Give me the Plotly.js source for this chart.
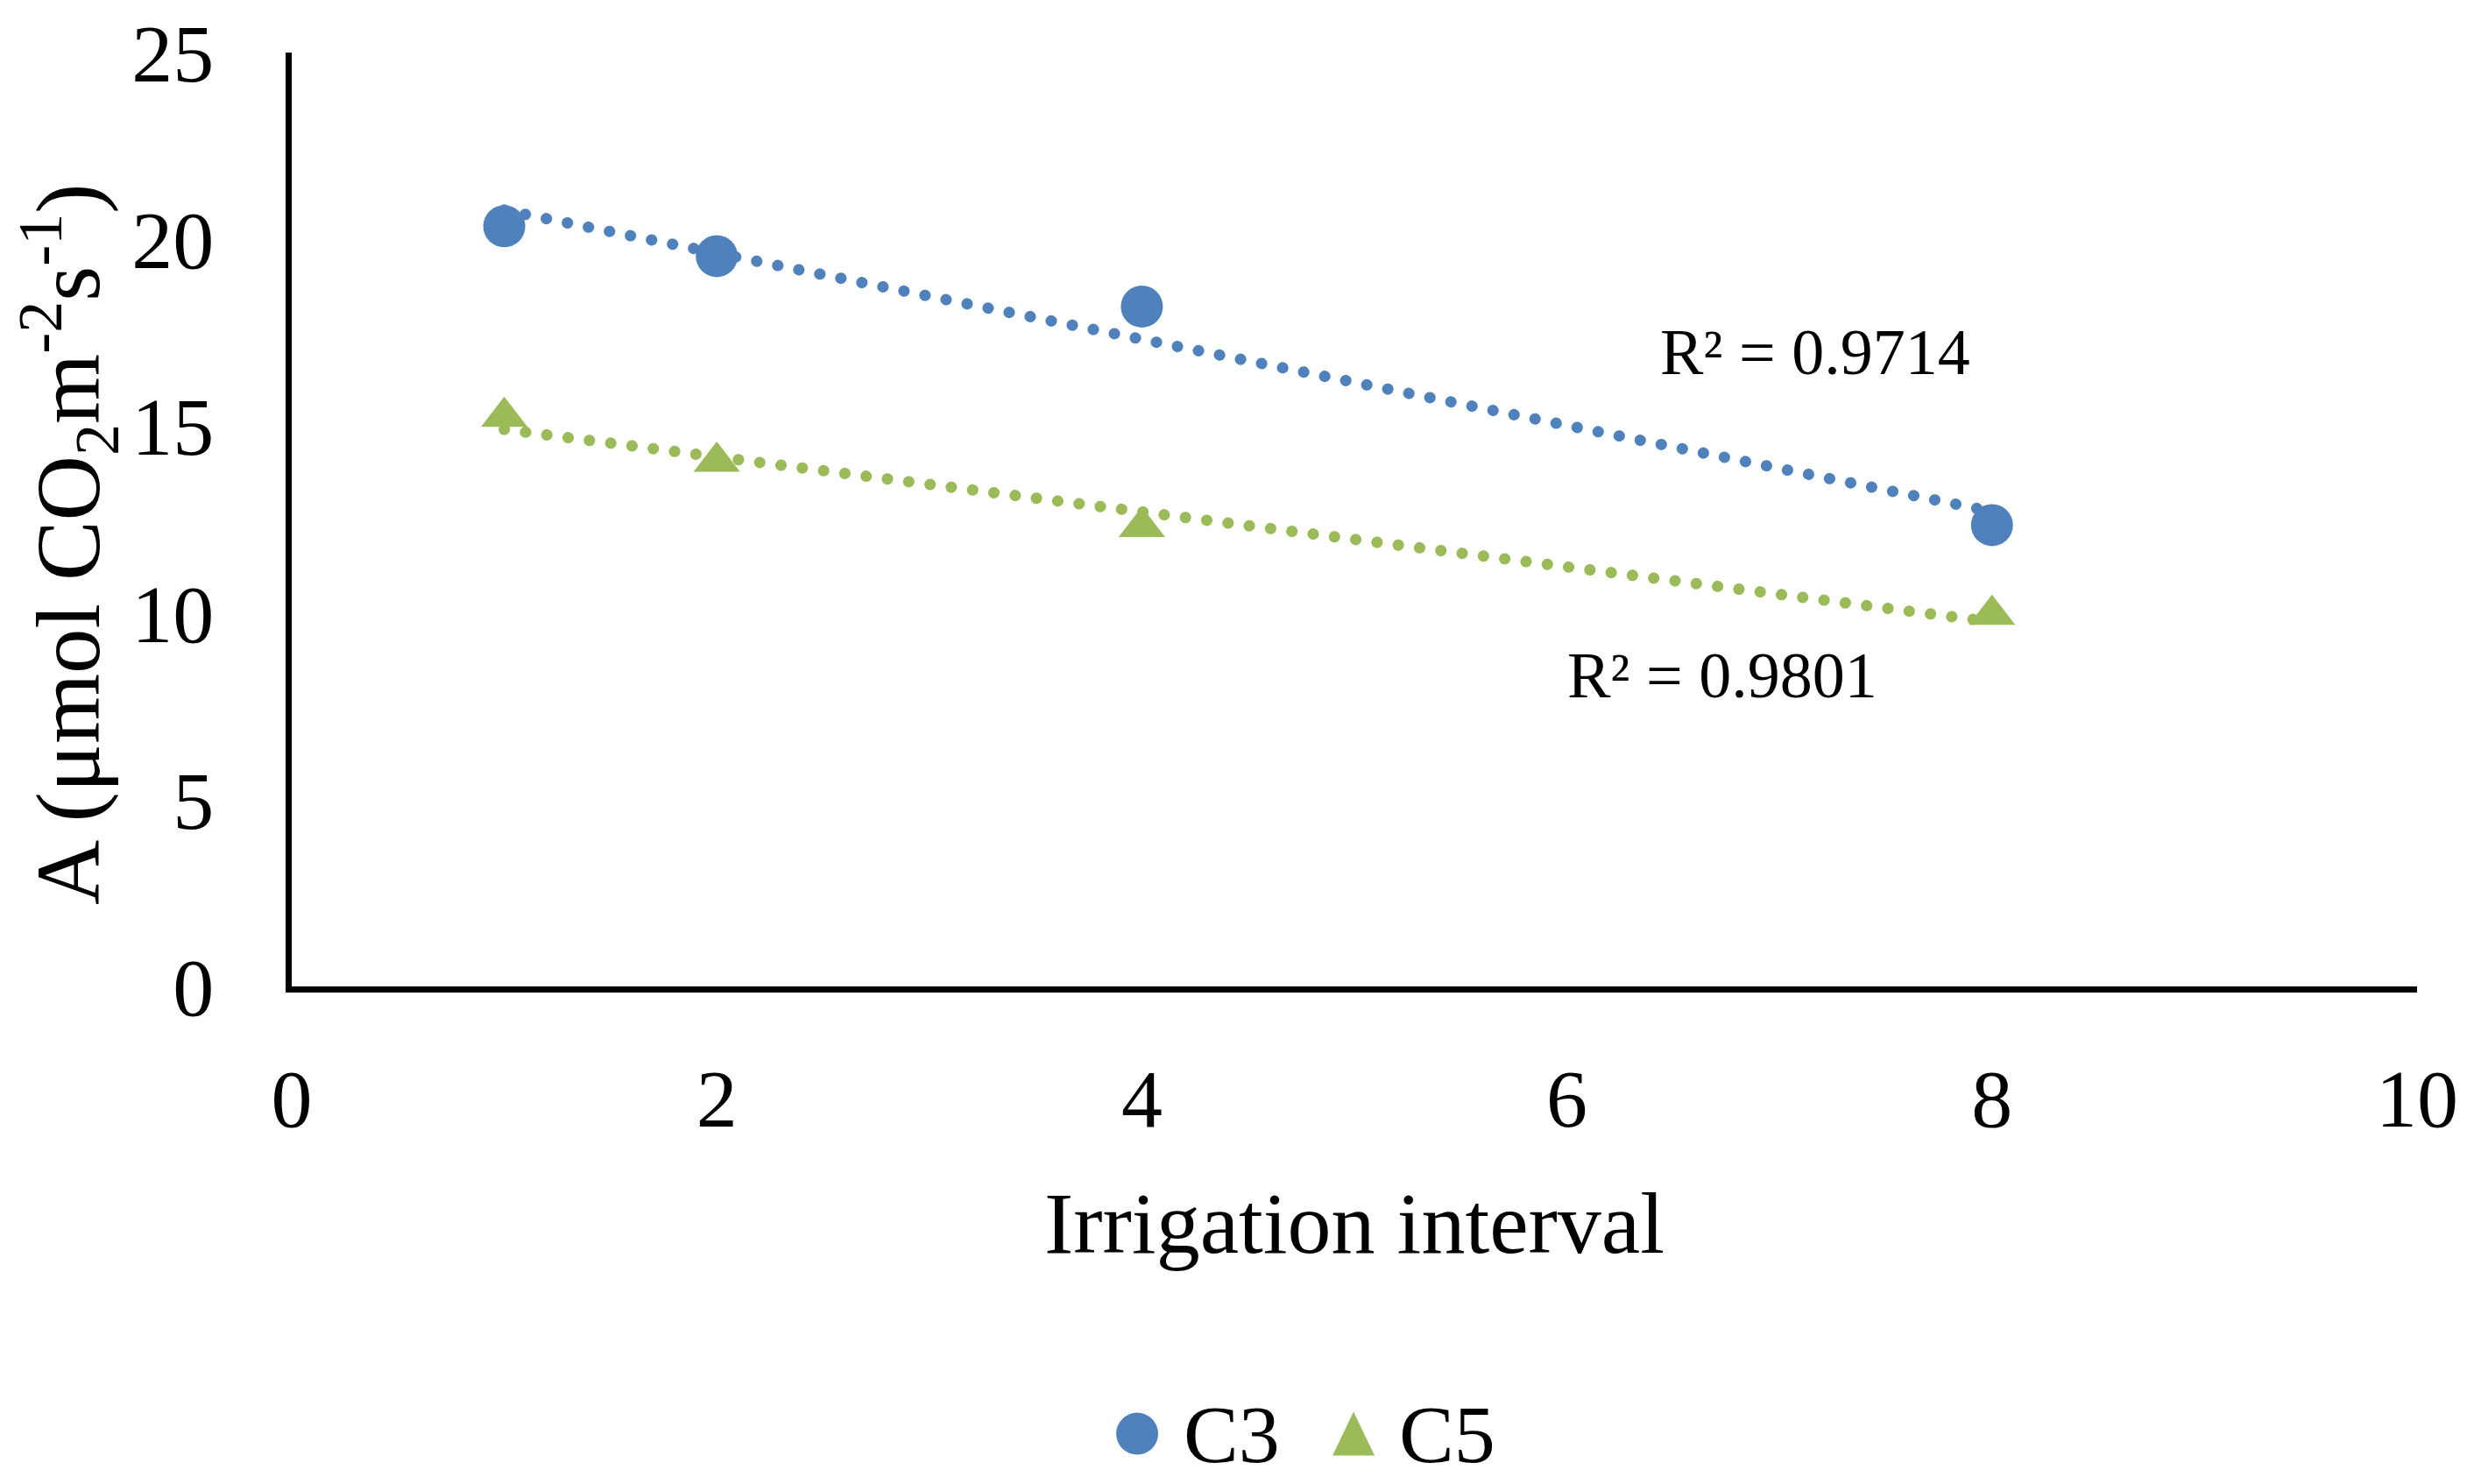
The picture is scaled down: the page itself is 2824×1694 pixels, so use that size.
<!DOCTYPE html>
<html>
<head>
<meta charset="utf-8">
<script src="https://cdn.plot.ly/plotly-3.0.1.min.js"></script>
<style>
  html, body { margin: 0; padding: 0; background: #fff; }
  #chart { width: 2824px; height: 1694px; }
  /* round dots on the trendlines, as in Excel */
  #chart .scatterlayer .js-line { stroke-linecap: round !important; }
</style>
</head>
<body>
<div id="chart"></div>
<script>
  // values
  const intervals = [1, 2, 4, 8];
  const c3Values = [20.35, 19.55, 18.2, 12.35];
  const c5Values = [15.25, 14.05, 12.3, 9.95];
  const seriesNames = ['C3', 'C5'];
  const r2Labels = ['R² = 0.9714', 'R² = 0.9801'];

  const blue = '#4F81BD';
  const green = '#9BBB59';
  const serif = 'Liberation Serif, Times New Roman, serif';

  // least squares line, drawn over the span of the data like Excel's trendline
  function trend(xs, ys) {
    let n = xs.length;
    let mx = xs.reduce((a, b) => a + b, 0) / n;
    let my = ys.reduce((a, b) => a + b, 0) / n;
    let sxy = 0, sxx = 0;
    for (let i = 0; i < n; i++) {
      sxy += (xs[i] - mx) * (ys[i] - my);
      sxx += (xs[i] - mx) ** 2;
    }
    let slope = sxy / sxx;
    let icpt = my - slope * mx;
    let ends = [xs[0], xs[n - 1]];
    return { x: ends, y: ends.map(v => icpt + slope * v) };
  }

  let t3 = trend(intervals, c3Values);
  let t5 = trend(intervals, c5Values);

  var trendC3 = {
    x: t3.x, y: t3.y,
    mode: 'lines',
    showlegend: false,
    hoverinfo: 'skip',
    line: { color: blue, width: 13, dash: '0.1px,24.4px' }
  };

  var trendC5 = {
    x: t5.x, y: t5.y,
    mode: 'lines',
    showlegend: false,
    hoverinfo: 'skip',
    line: { color: green, width: 13, dash: '0.1px,24.4px' }
  };

  var pointsC3 = {
    x: intervals, y: c3Values,
    mode: 'markers',
    name: seriesNames[0],
    showlegend: false,
    marker: { symbol: 'circle', size: 48, color: blue }
  };

  var pointsC5 = {
    x: intervals, y: c5Values,
    mode: 'markers',
    name: seriesNames[1],
    showlegend: false,
    marker: { symbol: 'triangle-up', size: 46, color: green }
  };

  // legend built by hand so the symbols can be as big as in the original
  let legY = -0.479;
  let legendShapes = [
    { type: 'circle', xref: 'paper', yref: 'paper',
      xsizemode: 'pixel', ysizemode: 'pixel',
      xanchor: 0.3978, yanchor: legY,
      x0: -24, x1: 24, y0: -24, y1: 24,
      fillcolor: blue, line: { width: 0 } },
    { type: 'path', xref: 'paper', yref: 'paper',
      xsizemode: 'pixel', ysizemode: 'pixel',
      xanchor: 0.4996, yanchor: legY,
      path: 'M-24,-25 L24,-25 L0,25 Z',
      fillcolor: green, line: { width: 0 } }
  ];

  var layout = {
    width: 2824,
    height: 1694,
    paper_bgcolor: '#fff',
    plot_bgcolor: '#fff',
    margin: { l: 333, r: 65, t: 60, b: 568 },
    font: { family: serif, color: '#000' },
    showlegend: false,
    xaxis: {
      range: [0, 10],
      dtick: 2,
      showgrid: false,
      zeroline: false,
      showline: true,
      linecolor: '#000',
      linewidth: 7,
      ticks: '',
      ticklabelstandoff: 40,
      tickfont: { family: serif, size: 94, color: '#000' },
      title: { text: 'Irrigation interval', standoff: 58, font: { family: serif, size: 100, color: '#000' } }
    },
    yaxis: {
      range: [0, 25],
      dtick: 5,
      showgrid: false,
      zeroline: false,
      showline: true,
      linecolor: '#000',
      linewidth: 7,
      ticks: '',
      ticklabelstandoff: 63,
      tickfont: { family: serif, size: 94, color: '#000' }
    },
    shapes: legendShapes,
    annotations: [
      { x: -0.1051, y: 0.4737, xref: 'paper', yref: 'paper', textangle: -90,
        xanchor: 'center', yanchor: 'middle', showarrow: false,
        text: 'A (μmol CO<sub>2</sub>m<sup>-2</sup>s<sup>-1</sup>)',
        font: { family: serif, size: 103, color: '#000' } },
      { x: 7.17, y: 16.98, xref: 'x', yref: 'y', text: r2Labels[0], showarrow: false,
        font: { family: serif, size: 74, color: '#000' } },
      { x: 6.73, y: 8.32, xref: 'x', yref: 'y', text: r2Labels[1], showarrow: false,
        font: { family: serif, size: 74, color: '#000' } },
      { x: 0.4188, y: legY, xref: 'paper', yref: 'paper', xanchor: 'left', yanchor: 'middle',
        showarrow: false, text: seriesNames[0], font: { family: serif, size: 94, color: '#000' } },
      { x: 0.5202, y: legY, xref: 'paper', yref: 'paper', xanchor: 'left', yanchor: 'middle',
        showarrow: false, text: seriesNames[1], font: { family: serif, size: 94, color: '#000' } }
    ]
  };

  Plotly.newPlot('chart', [trendC3, trendC5, pointsC3, pointsC5], layout, { displayModeBar: false, staticPlot: true });
</script>
</body>
</html>
